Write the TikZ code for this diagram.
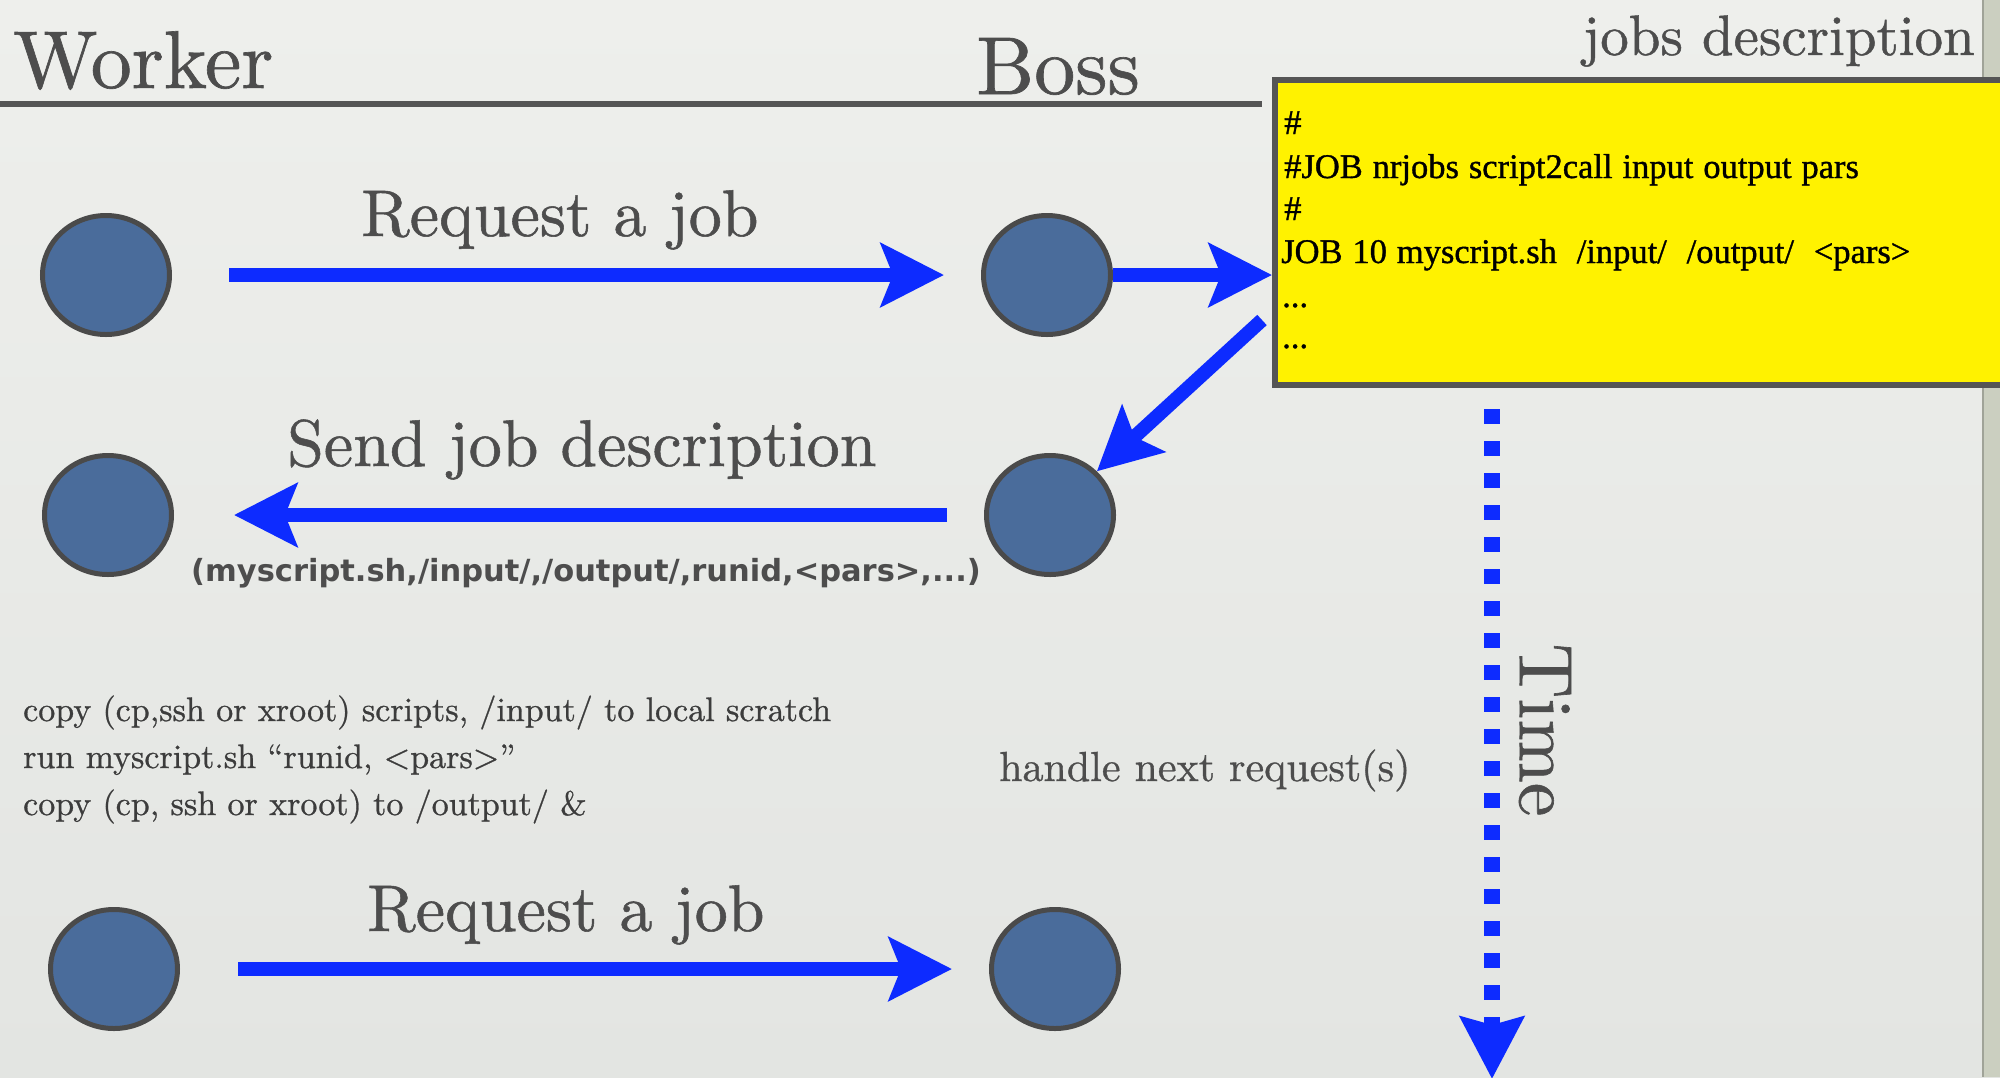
\documentclass[tikz,border=0pt]{standalone}
\usepackage{fontspec}
\setmainfont{lmroman10-regular.otf}[BoldFont=lmroman10-bold.otf, ItalicFont=lmroman10-italic.otf, FakeBold=0.8]
\usetikzlibrary{arrows.meta,shapes.geometric}
\newfontfamily\boxfont{Liberation Serif}[FakeBold=1.0, WordSpace=1.15]
\newfontfamily\comicfont{DejaVu Sans}
\definecolor{bgtop}{RGB}{238,239,236}
\definecolor{bgbot}{RGB}{227,229,226}
\definecolor{arrblue}{RGB}{13,43,255}
\definecolor{ballfill}{RGB}{74,108,155}
\definecolor{ballline}{RGB}{74,74,74}
\definecolor{labelgray}{RGB}{77,77,77}
\definecolor{boxline}{RGB}{85,85,85}
\definecolor{stripc}{RGB}{203,207,192}
\definecolor{stripl}{RGB}{160,163,152}
\begin{document}
\begin{tikzpicture}[x=1pt,y=-1pt,
  ball/.style={ellipse, draw=ballline, fill=ballfill, line width=5pt, minimum width=127pt, minimum height=119pt, inner sep=0pt},
  arr/.style={draw=arrblue, fill=arrblue, line width=14pt, -{Stealth[length=63pt,width=63pt,inset=12pt]}},
  lbl/.style={inner sep=0pt, anchor=base west, text=labelgray},
  big/.style={lbl, font=\fontsize{66}{70}\selectfont},
  head/.style={lbl, font=\fontsize{82}{86}\selectfont},
  body/.style={lbl, font=\fontsize{34}{40}\selectfont, text={rgb,255:red,60;green,60;blue,60}},
  jobline/.style={inner sep=0pt, anchor=base west, font=\boxfont\fontsize{34.5}{40}\selectfont, text=black}
]
\clip (0,0) rectangle (2000,1077);
\shade[top color=bgtop, bottom color=bgbot] (0,0) rectangle (2000,1077);
\fill[stripc] (1983,0) rectangle (2000,1077);
\draw[stripl, line width=2pt] (1983,0) -- (1983,1077);

% headers
\node[head] (worker) at (13,88) {Worker};
\node[head] (boss) at (976,94) {Boss};
\node[lbl, anchor=base east, font=\fontsize{57}{60}\selectfont] (jobsdesc) at (1975,55) {jobs description};
\coordinate (rulel) at (0,104);
\coordinate (ruler) at (1262,104);
\draw[boxline, line width=6pt] (rulel) -- (ruler);

% jobs box
\node[draw=boxline, line width=6pt, fill=yellow, anchor=north west, minimum width=760pt, minimum height=305pt, inner sep=0pt] (jobs) at (1272,77) {};
\node[jobline] (j1) at (1284,134) {\#};
\node[jobline] (j2) at (1284,178) {\#JOB nrjobs script2call input output pars};
\node[jobline] (j3) at (1284,220) {\#};
\node[jobline] (j4) at (1281,263) {JOB 10 myscript.sh~ /input/~ /output/~ <pars>};
\node[jobline] (j5) at (1282,307) {...};
\node[jobline] (j6) at (1282,348) {...};

% balls
\node[ball] (w1) at (106,275) {};
\node[ball] (b1) at (1047,275) {};
\node[ball] (w2) at (108,515) {};
\node[ball] (b2) at (1050,515) {};
\node[ball] (w3) at (114,969) {};
\node[ball] (b3) at (1055,969) {};

% labels
\node[big] (req1) at (361,236) {Request a job};
\node[big] (send) at (287,466) {Send job description};
\node[big] (req2) at (367,931) {Request a job};
\node[lbl, font=\comicfont\bfseries\fontsize{30.5}{34}\selectfont] (tuple) at (191,581) {(myscript.sh,/input/,/output/,runid,<pars>,...)};
\node[body] (t1) at (23,721) {copy (cp,ssh or xroot) scripts, /input/ to local scratch};
\node[body] (t2) at (23,768) {run myscript.sh “runid, <pars>”};
\node[body] (t3) at (23,815) {copy (cp, ssh or xroot) to /output/ \&};
\node[lbl, font=\fontsize{42}{46}\selectfont] (next) at (999,781) {handle next request(s)};

% arrows
\draw[arr] ([xshift=57pt]w1.east) -- ([xshift=-37pt]b1.west);
\draw[arr] (b1.east) -- (b1.east -| jobs.west);
\coordinate (dstart) at (1262,320);
\draw[arr] (dstart) -- (b2.43);
\draw[arr] ([xshift=-37pt]b2.west) -- ([xshift=60pt]w2.east);
\draw[arr] ([xshift=58pt]w3.east) -- ([xshift=-37pt]b3.west);

% time axis
\coordinate (tstart) at (1492,409);
\coordinate (tend) at (1492,1079);
\draw[arrblue, line width=16pt, dash pattern=on 15pt off 17pt, -{Stealth[length=62pt,width=63pt,inset=8pt]}] (tstart) -- (tend);
\node[rotate=-90, inner sep=0pt, text=labelgray, font=\fontsize{76}{80}\selectfont] (time) at (1545,730) {Time};
\end{tikzpicture}
\end{document}
